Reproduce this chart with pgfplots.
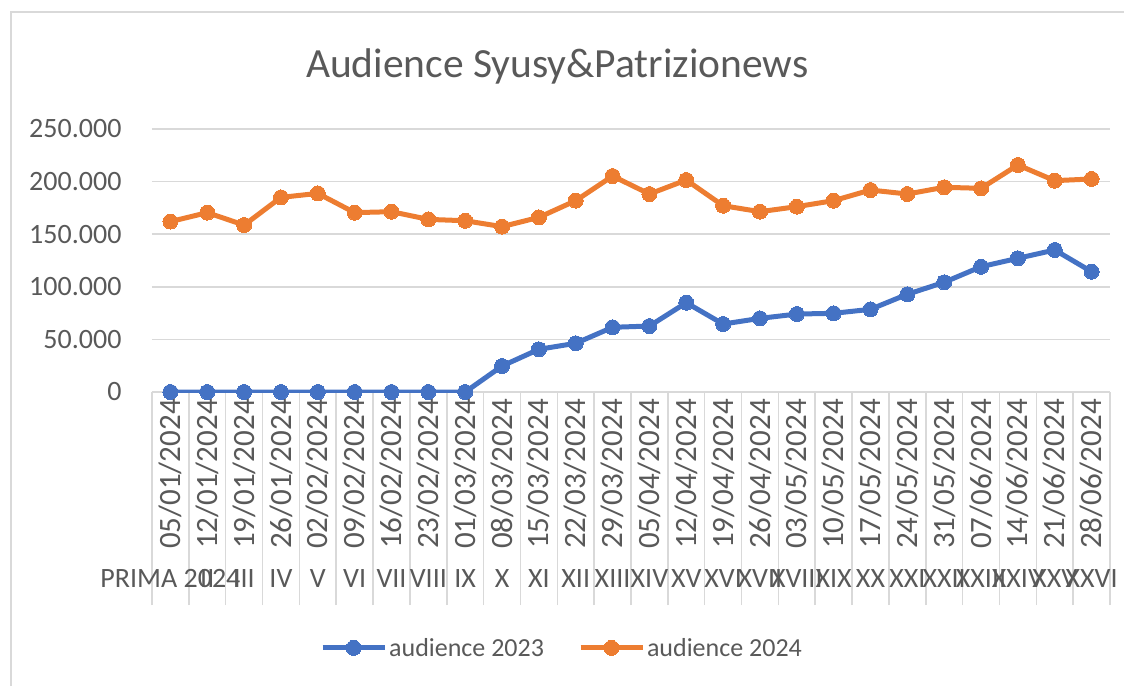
\documentclass[border=0pt]{standalone}
\usepackage{pgfplots}
\pgfplotsset{compat=1.18}
\usepackage{fontspec}
\setmainfont{Carlito}
\definecolor{txt}{RGB}{89,89,89}
\definecolor{gridc}{RGB}{217,217,217}
\definecolor{cblue}{RGB}{68,114,196}
\definecolor{corange}{RGB}{237,125,49}
\begin{document}
\begin{tikzpicture}
\useasboundingbox (-152pt,-294pt) rectangle (972pt,392pt);
\draw[gridc, line width=1.5pt] (-141pt,-294pt) -- (-141pt,380pt) -- (972pt,380pt);
\begin{axis}[
  scale only axis,
  width=958pt, height=263pt,
  xmin=-0.5, xmax=25.5,
  ymin=0, ymax=250000,
  axis line style={draw=none},
  ymajorgrids, grid style={gridc, line width=1.5pt},
  scaled y ticks=false,
  ytick={0,50000,100000,150000,200000,250000},
  yticklabels={0,50.000,100.000,150.000,200.000,250.000},
  ytick style={draw=none},
  yticklabel style={font=\fontsize{28}{34}\selectfont, text=txt, anchor=east, xshift=-27pt},
  xtick pos=bottom,
  xtick={0,...,25},
  major tick length=0pt,
  xticklabels={PRIMA 2024,II,III,IV,V,VI,VII,VIII,IX,X,XI,XII,XIII,XIV,XV,XVI,XVII,XVIII,XIX,XX,XXI,XXII,XXIII,XXIV,XXV,XXVI},
  xticklabel style={font=\fontsize{28}{34}\selectfont, text=txt, anchor=base, yshift=-195pt, inner sep=0pt},
  minor xtick={-0.5,0.5,...,25.5},
  minor tick length=213pt,
  tick align=outside,
  minor tick style={gridc, line width=1.5pt},
  extra x ticks={0,...,25},
  extra x tick labels={05/01/2024,12/01/2024,19/01/2024,26/01/2024,02/02/2024,09/02/2024,16/02/2024,23/02/2024,01/03/2024,08/03/2024,15/03/2024,22/03/2024,29/03/2024,05/04/2024,12/04/2024,19/04/2024,26/04/2024,03/05/2024,10/05/2024,17/05/2024,24/05/2024,31/05/2024,07/06/2024,14/06/2024,21/06/2024,28/06/2024},
  extra x tick style={major tick length=0pt,
    every x tick label/.style={font=\fontsize{31}{36}\selectfont, text=txt, yshift=-7pt, rotate=90, anchor=east, inner sep=0pt}},
  title={Audience Syusy\&Patrizionews},
  title style={font=\fontsize{41.5}{48}\selectfont, text=txt, at={(0.423,1.215)}, anchor=center},
  legend style={draw=none, fill=none, at={(0.428,-0.973)}, anchor=center,
    font=\fontsize{26}{30}\selectfont, text=txt, legend columns=2,
    /tikz/every even column/.append style={column sep=32pt}},
  legend image code/.code={\draw[#1, mark repeat=2, mark phase=2] plot coordinates {(0pt,0pt) (31pt,0pt) (62pt,0pt)};},
]
\addplot[cblue, line width=5pt, mark=*, mark size=7.5pt, mark options={solid, fill=cblue, line width=0pt}] coordinates {
(0,0) (1,0) (2,0) (3,0) (4,0) (5,0) (6,0) (7,0) (8,0)
(9,24700) (10,40600) (11,46300) (12,61500) (13,62700) (14,84900)
(15,64600) (16,70000) (17,74100) (18,74800) (19,78600) (20,92900)
(21,104300) (22,119100) (23,127100) (24,135000) (25,114400)
};
\addlegendentry{audience 2023}
\addplot[corange, line width=5pt, mark=*, mark size=7.5pt, mark options={solid, fill=corange, line width=0pt}] coordinates {
(0,162000) (1,170500) (2,158700) (3,185000) (4,188800) (5,170500)
(6,171400) (7,164100) (8,162800) (9,157200) (10,166000) (11,181900)
(12,205300) (13,188200) (14,201500) (15,177100) (16,171400) (17,176200)
(18,181900) (19,192000) (20,188200) (21,194600) (22,193600) (23,215800)
(24,200900) (25,202500)
};
\addlegendentry{audience 2024}
\end{axis}
\end{tikzpicture}
\end{document}
